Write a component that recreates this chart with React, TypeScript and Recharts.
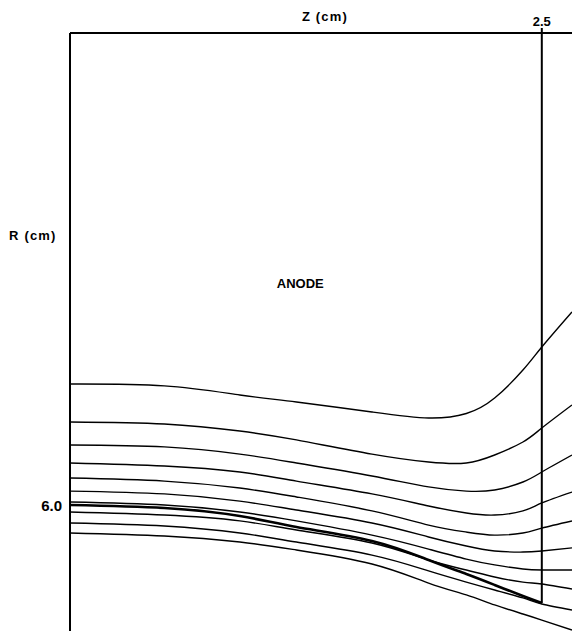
import React from 'react';
import { LineChart, Line, XAxis, YAxis, ReferenceLine, ReferenceDot } from 'recharts';

// Axial positions Z (cm) at which every field line is sampled
const zSamples = [0, 0.5, 0.9, 1.2, 1.6, 1.9, 2.1, 2.25, 2.4, 2.5, 2.66];

// Radial positions R (cm) of each line at those Z values
const line1 = [6.646, 6.636, 6.588, 6.551, 6.498, 6.466, 6.490, 6.572, 6.720, 6.842, 7.028];
const line2 = [6.445, 6.434, 6.397, 6.350, 6.275, 6.233, 6.228, 6.270, 6.339, 6.413, 6.535];
const line3 = [6.323, 6.313, 6.275, 6.228, 6.159, 6.101, 6.079, 6.085, 6.127, 6.180, 6.270];
const line4 = [6.228, 6.212, 6.180, 6.132, 6.064, 6.000, 5.963, 5.952, 5.974, 6.016, 6.074];
const line5 = [6.148, 6.132, 6.095, 6.048, 5.974, 5.899, 5.862, 5.846, 5.857, 5.883, 5.921];
const line6 = [6.079, 6.064, 6.026, 5.979, 5.910, 5.836, 5.788, 5.762, 5.756, 5.762, 5.778];
const line7 = [6.021, 6.005, 5.968, 5.921, 5.846, 5.772, 5.719, 5.688, 5.666, 5.661, 5.661];
const cathode = [6.005, 5.989, 5.947, 5.889, 5.815, 5.714, 5.640, 5.582, 5.523, 5.486];
const line9 = [5.968, 5.952, 5.921, 5.873, 5.804, 5.714, 5.661, 5.624, 5.597, 5.587, 5.560];
const line10 = [5.910, 5.894, 5.857, 5.809, 5.740, 5.656, 5.597, 5.555, 5.513, 5.481, 5.449];
const line11 = [5.857, 5.841, 5.809, 5.767, 5.693, 5.592, 5.529, 5.476, 5.428, 5.396, 5.343];

const thinLines = [line1, line2, line3, line4, line5, line6, line7, line9, line10, line11];

// Axis setup
const zDomain = [0, 2.66];
const rDomain = [5.338, 8.505];
const zTicks = [2.5];
const rTicks = [6.0];
const cathodeTipZ = 2.5;
const cathodeTipR = 5.486;
const anodeLabelPos = { z: 1.22, r: 7.18 };

const toData = (arr: number[]) => arr.map((r, i) => ({ z: zSamples[i], r }));

const font = 'Liberation Sans, Arial, sans-serif';

export default function App() {
  return (
    <div style={{ position: 'absolute', left: 0, top: 0, background: '#fff' }}>
      <LineChart width={572} height={631} margin={{ top: 0, right: 0, bottom: 0, left: 0 }}>
        <XAxis
          xAxisId={0}
          type="number"
          dataKey="z"
          orientation="top"
          domain={zDomain}
          ticks={zTicks}
          allowDataOverflow
          height={33}
          axisLine={{ stroke: '#000', strokeWidth: 2 }}
          tickLine={{ stroke: '#000', strokeWidth: 2 }}
          tickSize={5}
          tick={{ fill: '#000', fontSize: 13, fontWeight: 'bold', fontFamily: font }}
          tickFormatter={(v: number) => v.toFixed(1)}
          label={{ value: 'Z (cm)', position: 'center', dx: 4, fill: '#000', fontSize: 13, fontWeight: 'bold', fontFamily: font, letterSpacing: 1.2 }}
        />
        <YAxis
          yAxisId={0}
          type="number"
          domain={rDomain}
          ticks={rTicks}
          allowDataOverflow
          width={70}
          axisLine={{ stroke: '#000', strokeWidth: 2 }}
          tickLine={false}
          tick={{ fill: '#000', fontSize: 15, fontWeight: 'bold', fontFamily: font }}
          tickFormatter={(v: number) => v.toFixed(1)}
          label={{ value: 'R (cm)', position: 'insideLeft', offset: 9, dy: -97, fill: '#000', fontSize: 13, fontWeight: 'bold', fontFamily: font, letterSpacing: 1.2 }}
        />
        {thinLines.map((arr, i) => (
          <Line
            key={i}
            data={toData(arr)}
            dataKey="r"
            type="natural"
            stroke="#000"
            strokeWidth={1.4}
            dot={false}
            activeDot={false}
            isAnimationActive={false}
          />
        ))}
        <Line
          data={toData(cathode)}
          dataKey="r"
          type="natural"
          stroke="#000"
          strokeWidth={2.6}
          dot={false}
          activeDot={false}
          isAnimationActive={false}
        />
        <ReferenceLine
          segment={[{ x: cathodeTipZ, y: rDomain[1] }, { x: cathodeTipZ, y: cathodeTipR }]}
          stroke="#000"
          strokeWidth={2}
          ifOverflow="extendDomain"
        />
        <ReferenceDot
          x={anodeLabelPos.z}
          y={anodeLabelPos.r}
          r={0}
          fill="none"
          stroke="none"
          label={{ value: 'ANODE', position: 'center', fill: '#000', fontSize: 13, fontWeight: 'bold', fontFamily: font }}
        />
      </LineChart>
    </div>
  );
}
